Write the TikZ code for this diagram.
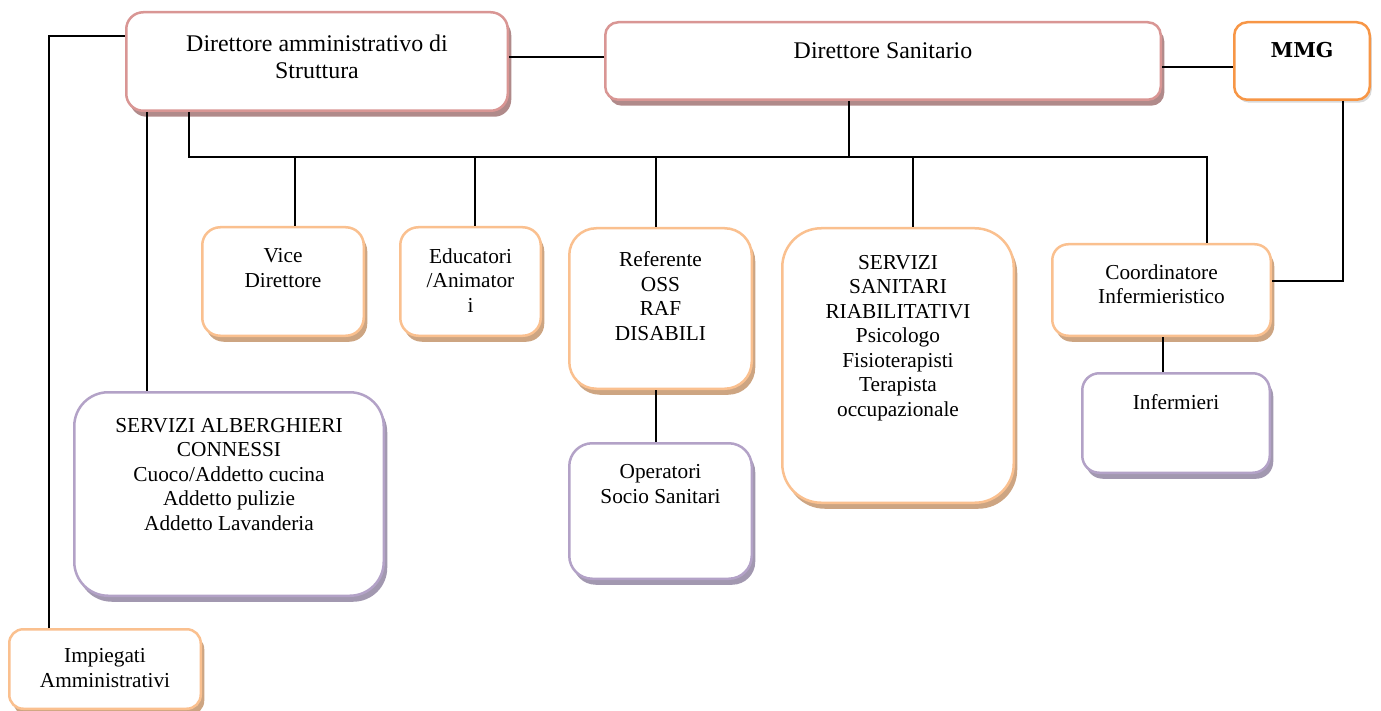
\documentclass[tikz,border=0pt]{standalone}
\usepackage{fontspec}
\setmainfont{Liberation Serif}
\newfontfamily\mmgfont{DejaVu Serif}
\usepackage{tikz}
\usetikzlibrary{positioning,shadows}
\definecolor{pinkline}{HTML}{D99694}
\definecolor{pinkshade}{HTML}{B08A8A}
\definecolor{orangeline}{HTML}{FAC08F}
\definecolor{orangeshade}{HTML}{CDA582}
\definecolor{purpleline}{HTML}{B3A2C7}
\definecolor{purpleshade}{HTML}{A298B0}
\definecolor{mmgline}{HTML}{F79646}

\begin{document}
\begin{tikzpicture}[x=1pt,y=-1pt,
	box/.style={draw, line width=2.5pt, fill=white, inner sep=0pt},
	pinkbox/.style={box, draw=pinkline, drop shadow={shadow xshift=3.5pt, shadow yshift=-6pt, fill=pinkshade, opacity=1}},
	orangebox/.style={box, draw=orangeline, drop shadow={shadow xshift=3.5pt, shadow yshift=-6pt, fill=orangeshade, opacity=1}},
	purplebox/.style={box, draw=purpleline, drop shadow={shadow xshift=3.5pt, shadow yshift=-6pt, fill=purpleshade, opacity=1}},
	mmgbox/.style={box, draw=mmgline, drop shadow={shadow xshift=2pt, shadow yshift=-3pt, fill=black, opacity=0.15}},
	txt/.style={anchor=north, inner sep=0pt, align=center, font=\fontsize{21.3}{24.5}\selectfont},
	bigtxt/.style={txt, font=\fontsize{23.9}{27}\selectfont},
	link/.style={line width=1.8pt}]
			\useasboundingbox (0,0) rectangle (1381,711);
			\node[pinkbox, minimum width=381.5pt, minimum height=98.5pt, rounded corners=17pt, label={[bigtxt, yshift=-23.7pt]north:{Direttore amministrativo di\\Struttura}}] (diramm) at (317,61.5) {};
			\node[pinkbox, minimum width=555.5pt, minimum height=77.5pt, rounded corners=13pt, label={[bigtxt, yshift=-21.7pt]north:{Direttore Sanitario}}] (dirsan) at (883,61) {};
			\node[mmgbox, minimum width=135.5pt, minimum height=77.5pt, rounded corners=13pt, label={[txt, anchor=base, yshift=-37pt, font=\mmgfont\bfseries\fontsize{20.5}{24}\selectfont]north:{MMG}}] (mmg) at (1302,61) {};
			\node[orangebox, minimum width=161.5pt, minimum height=108.5pt, rounded corners=18pt, label={[txt, yshift=-22.5pt]north:{Vice\\Direttore}}] (vice) at (283,281.5) {};
			\node[orangebox, minimum width=140.5pt, minimum height=108.5pt, rounded corners=18pt, label={[txt, yshift=-22.5pt]north:{Educatori\\/Animator\\i}}] (educ) at (470.5,281.5) {};
			\node[orangebox, minimum width=182.5pt, minimum height=160.5pt, rounded corners=27pt, label={[txt, yshift=-24.5pt]north:{Referente\\OSS\\RAF\\DISABILI}}] (refer) at (660.5,308.5) {};
			\node[purplebox, minimum width=182.5pt, minimum height=135.5pt, rounded corners=23pt, label={[txt, yshift=-22.5pt]north:{Operatori\\Socio Sanitari}}] (oper) at (660.5,511) {};
			\node[orangebox, minimum width=231.5pt, minimum height=274.5pt, rounded corners=39pt, label={[txt, yshift=-27.9pt]north:{SERVIZI\\SANITARI\\RIABILITATIVI\\Psicologo\\Fisioterapisti\\Terapista\\occupazionale}}] (servsan) at (898,365.5) {};
			\node[orangebox, minimum width=218.5pt, minimum height=91.5pt, rounded corners=16pt, label={[txt, yshift=-21.5pt]north:{Coordinatore\\Infermieristico}}] (coord) at (1161.5,290) {};
			\node[purplebox, minimum width=187.5pt, minimum height=99.5pt, rounded corners=17pt, label={[txt, yshift=-22.5pt]north:{Infermieri}}] (inferm) at (1176,423) {};
			\node[purplebox, minimum width=309.5pt, minimum height=203.5pt, rounded corners=34pt, label={[txt, yshift=-26.9pt]north:{SERVIZI ALBERGHIERI\\CONNESSI\\Cuoco/Addetto cucina\\Addetto pulizie\\Addetto Lavanderia}}] (servalb) at (229,494) {};
			\node[orangebox, minimum width=191.5pt, minimum height=79.5pt, rounded corners=14pt, label={[txt, yshift=-20.5pt]north:{Impiegati\\Amministrativi}}] (impieg) at (105,669) {};
			\coordinate (bus) at (0,157);
			\draw[link] ([xshift=41pt]impieg.north west) |- ([yshift=25.5pt]diramm.west);
			\draw[link] ([yshift=4.5pt]diramm.east) -- ([yshift=4.5pt]diramm.east -| dirsan.west);
			\draw[link] ([yshift=-6pt]dirsan.east) -- ([yshift=-6pt]dirsan.east -| mmg.west);
			\draw[link] ([xshift=-128pt]diramm.south) |- ([xshift=45.5pt]coord.north |- bus) -- ([xshift=45.5pt]coord.north);
			\draw[link] ([xshift=-34pt]dirsan.south) -- ([xshift=-34pt]dirsan.south |- bus);
			\draw[link] ([xshift=-170pt]diramm.south) -- ([xshift=-170pt]diramm.south |- servalb.north);
			\draw[link] ([xshift=12pt]vice.north) -- ([xshift=12pt]vice.north |- bus);
			\draw[link] ([xshift=4.5pt]educ.north) -- ([xshift=4.5pt]educ.north |- bus);
			\draw[link] ([xshift=-4.5pt]refer.north) -- ([xshift=-4.5pt]refer.north |- bus);
			\draw[link] ([xshift=15pt]servsan.north) -- ([xshift=15pt]servsan.north |- bus);
			\draw[link] ([xshift=-4.5pt]refer.south) -- ([xshift=-4.5pt]refer.south |- oper.north);
			\draw[link] ([xshift=1.5pt]coord.south) -- ([xshift=1.5pt]coord.south |- inferm.north);
			\draw[link] ([xshift=41pt]mmg.south) |- ([yshift=9pt]coord.east);
\end{tikzpicture}
\end{document}
